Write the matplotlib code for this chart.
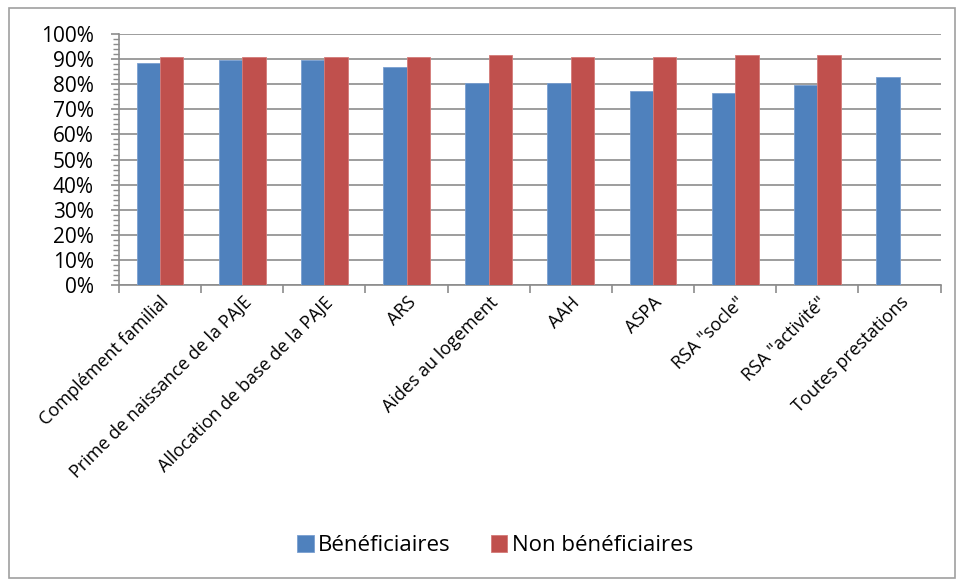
import matplotlib
matplotlib.use("Agg")
import matplotlib.pyplot as plt
import numpy as np
from matplotlib.patches import Rectangle
from matplotlib.ticker import MultipleLocator, PercentFormatter

plt.rcParams["font.family"] = ["Open Sans", "DejaVu Sans"]

categories = ["Complément familial", "Prime de naissance de la PAJE",
              "Allocation de base de la PAJE", "ARS", "Aides au logement",
              "AAH", "ASPA", "RSA \"socle\"", "RSA \"activité\"", "Toutes prestations"]
beneficiaires = [88.3, 89.7, 89.7, 86.8, 80.3, 80.3, 77.3, 76.4, 79.7, 82.7]
non_beneficiaires = [90.8, 90.8, 90.8, 90.8, 91.6, 90.8, 90.8, 91.6, 91.6, np.nan]

BLUE = "#4F81BD"
RED = "#C0504D"
GRID = "#8C8C8C"

fig = plt.figure(figsize=(9.61, 5.83), dpi=100)
ax = fig.add_axes([0.1238, 0.5111, 0.855, 0.4305])

x = np.arange(len(categories))
w = 0.285
ax.bar(x - w / 2, beneficiaires, w, color=BLUE, edgecolor="#7A9FD0", linewidth=0.6,
       label="Bénéficiaires", zorder=3)
ax.bar(x + w / 2, non_beneficiaires, w, color=RED, edgecolor="#D47A78", linewidth=0.6,
       label="Non bénéficiaires", zorder=3)

ax.set_xlim(-0.5, len(categories) - 0.5)
ax.set_ylim(0, 100)
ax.yaxis.set_major_locator(MultipleLocator(10))
ax.yaxis.set_minor_locator(MultipleLocator(2))
ax.yaxis.set_major_formatter(PercentFormatter(decimals=0))
ax.grid(axis="y", color=GRID, linewidth=1.2, zorder=0)

# category ticks sit on the boundaries, labels at the centres
ax.set_xticks(np.arange(-0.5, len(categories)), minor=False)
ax.set_xticklabels([])
ax.set_xticks(x, minor=True)
ax.set_xticklabels(categories, minor=True, rotation=45, ha="right",
                   rotation_mode="anchor", fontsize=13)
ax.tick_params(axis="x", which="minor", length=0, pad=6)
ax.tick_params(axis="x", which="major", length=6, color=GRID, width=1.2)
ax.tick_params(axis="y", which="major", length=6, color=GRID, width=1.2, labelsize=15, pad=12)
ax.tick_params(axis="y", which="minor", length=4, color=GRID, width=1)

for s in ["top", "right"]:
    ax.spines[s].set_visible(False)
for s in ["left", "bottom"]:
    ax.spines[s].set_color(GRID)
    ax.spines[s].set_linewidth(1.2)

fig.legend(loc="center", bbox_to_anchor=(0.515, 0.064), ncol=2, frameon=False,
           fontsize=16, handlelength=0.75, handleheight=0.75, handletextpad=0.2,
           columnspacing=1.8)

fig.patches.append(Rectangle((0.009, 0.009), 0.985, 0.978, transform=fig.transFigure,
                             fill=False, edgecolor="#A0A0A0", linewidth=1.2))

fig.savefig("out.png", dpi=100)
